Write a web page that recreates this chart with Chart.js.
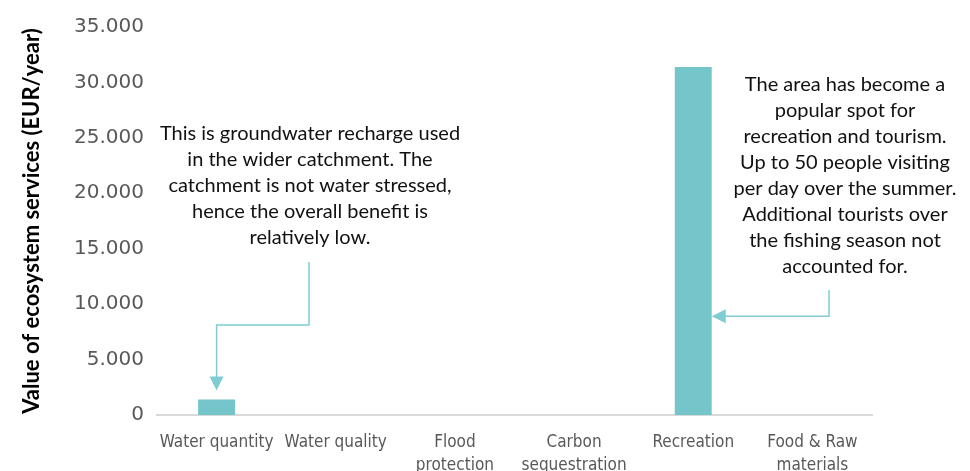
<!DOCTYPE html>
<html>
<head>
<meta charset="utf-8">
<script src="https://cdn.jsdelivr.net/npm/chart.js@4"></script>
<style>
  html, body { margin: 0; padding: 0; background: #fff; }
  #wrap { width: 970px; height: 471px; }
</style>
</head>
<body>
<div id="wrap"><canvas id="myChart" width="970" height="471"></canvas></div>
<script>
const categories = [
  "Water quantity",
  "Water quality",
  ["Flood", "protection"],
  ["Carbon", "sequestration"],
  "Recreation",
  ["Food & Raw", "materials"],
];
const values = [1400, 0, 0, 0, 31400, 0];
const yTicks = [0, 5000, 10000, 15000, 20000, 25000, 30000, 35000];

const noteLeft = [
  "This is groundwater recharge used",
  "in the wider catchment. The",
  "catchment is not water stressed,",
  "hence the overall benefit is",
  "relatively low.",
];
const noteRight = [
  "The area has become a",
  "popular spot for",
  "recreation and tourism.",
  "Up to 50 people visiting",
  "per day over the summer.",
  "Additional tourists over",
  "the fishing season not",
  "accounted for.",
];

const teal = "#74c6cb";
const arrowColor = "#7fcdd2";

const fmt = (v) => String(v).replace(/\B(?=(\d{3})+(?!\d))/g, ".");

// annotation boxes + elbow arrows
const notes = {
  id: "notes",
  afterDraw(chart) {
    const ctx = chart.ctx;
    const y = chart.scales.y;
    const bars = chart.getDatasetMeta(0).data;

    ctx.save();
    ctx.fillStyle = "#111";
    ctx.font = "20px Lato";
    ctx.textAlign = "center";
    ctx.textBaseline = "middle";
    noteLeft.forEach((t, i) => ctx.fillText(t, 310, 134 + i * 26));
    noteRight.forEach((t, i) => ctx.fillText(t, 845, 85 + i * 26));

    ctx.strokeStyle = arrowColor;
    ctx.fillStyle = arrowColor;
    ctx.lineWidth = 1.5;

    // left arrow, down onto the water quantity bar
    const b0 = bars[0];
    const tipY = b0.y - 9;
    ctx.beginPath();
    ctx.moveTo(309, 262);
    ctx.lineTo(309, 325);
    ctx.lineTo(b0.x, 325);
    ctx.lineTo(b0.x, tipY - 12);
    ctx.stroke();
    ctx.beginPath();
    ctx.moveTo(b0.x - 7, tipY - 14);
    ctx.lineTo(b0.x + 7, tipY - 14);
    ctx.lineTo(b0.x, tipY);
    ctx.closePath();
    ctx.fill();

    // right arrow, pointing at the recreation bar
    const b4 = bars[4];
    const edge = b4.x + b4.width / 2;
    const ay = y.getPixelForValue(8900);
    ctx.beginPath();
    ctx.moveTo(829, 290);
    ctx.lineTo(829, ay);
    ctx.lineTo(edge + 12, ay);
    ctx.stroke();
    ctx.beginPath();
    ctx.moveTo(edge + 14, ay - 7);
    ctx.lineTo(edge + 14, ay + 7);
    ctx.lineTo(edge, ay);
    ctx.closePath();
    ctx.fill();
    ctx.restore();
  },
};

new Chart(document.getElementById("myChart"), {
  type: "bar",
  data: {
    labels: categories,
    datasets: [
      {
        data: values,
        backgroundColor: teal,
        borderWidth: 0,
        categoryPercentage: 1,
        barPercentage: 0.31,
      },
    ],
  },
  options: {
    responsive: false,
    animation: false,
    layout: { padding: { top: 27, right: 98, left: 0, bottom: 0 } },
    plugins: {
      legend: { display: false },
      tooltip: { enabled: false },
    },
    scales: {
      x: {
        grid: { display: false },
        border: { color: "#d9d9d9", width: 2 },
        afterFit: (s) => { s.height = 56; },
        ticks: {
          autoSkip: false,
          maxRotation: 0,
          padding: 8,
          color: "#595959",
          font: { family: "'Liberation Sans Narrow', 'DejaVu Sans Condensed', sans-serif", size: 17, lineHeight: 1.35 },
        },
      },
      y: {
        min: 0,
        max: 35000,
        afterFit: (s) => { s.width = 157; },
        afterBuildTicks: (s) => { s.ticks = yTicks.map((v) => ({ value: v })); },
        grid: { display: false },
        border: { display: false },
        ticks: {
          padding: 5,
          color: "#595959",
          font: { family: "'DejaVu Sans'", size: 20 },
          callback: (v) => fmt(v),
        },
        title: {
          display: true,
          text: "Value of ecosystem services (EUR/year)",
          color: "#000",
          padding: { top: 19 },
          font: { family: "Lato", size: 22, weight: "bold" },
        },
      },
    },
  },
  plugins: [notes],
});
</script>
</body>
</html>
